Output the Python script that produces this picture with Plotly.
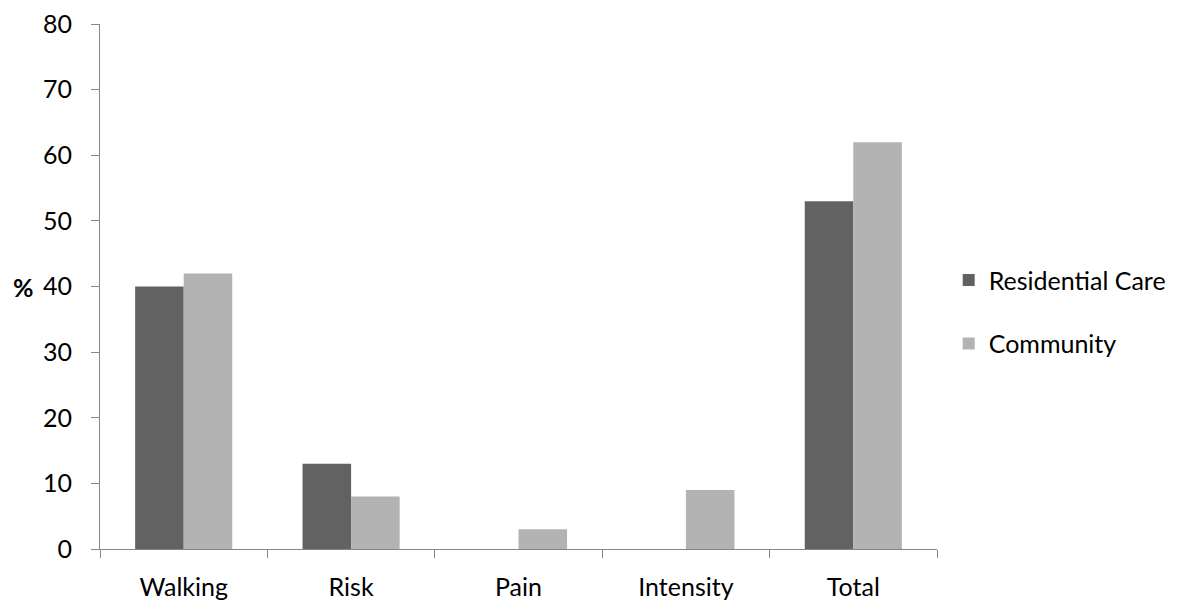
import plotly.graph_objects as go

categories = ["Walking", "Risk", "Pain", "Intensity", "Total"]
residential = [40, 13, 0, 0, 53]
community = [42, 8, 3, 9, 62]
y_ticks = [0, 10, 20, 30, 40, 50, 60, 70, 80]

FONT = "Lato"
FS = 25

fig = go.Figure()
fig.add_trace(go.Bar(x=categories, y=residential, name="Residential Care",
                     marker=dict(color="#626262", line=dict(width=0)),
                     legendgroup="a"))
fig.add_trace(go.Bar(x=categories, y=community, name="Community",
                     marker=dict(color="#b3b3b3", line=dict(width=0)),
                     legendgroup="b"))

fig.update_layout(
    width=1199, height=604,
    margin=dict(l=92, r=270, t=16, b=63),
    paper_bgcolor="white", plot_bgcolor="white",
    barmode="group", bargap=0.42, bargroupgap=0,
    font=dict(family=FONT, size=FS, color="#000000"),
    legend=dict(x=1.014, y=0.452, xanchor="left", yanchor="middle",
                tracegroupgap=28, font=dict(family=FONT, size=FS), itemwidth=30),
    xaxis=dict(showline=True, linecolor="#868686", linewidth=1,
               ticks="outside", tickson="boundaries", ticklen=8,
               tickcolor="#868686", showgrid=False, automargin=False,
               ticklabelstandoff=16, ticklabeloverflow="allow",
               tickfont=dict(family=FONT, size=FS)),
    yaxis=dict(range=[0, 80], tickvals=y_ticks, showline=True,
               linecolor="#868686", linewidth=1, ticks="outside", ticklen=8,
               tickcolor="#868686", showgrid=False, zeroline=False,
               automargin=False, ticklabelstandoff=14, ticklabeloverflow="allow",
               tickfont=dict(family=FONT, size=FS)),
    annotations=[dict(text="<b>%</b>", xref="paper", yref="y", x=0, y=40,
                      xanchor="right", xshift=-64, showarrow=False,
                      font=dict(family=FONT, size=FS, weight="bold"))],
)
fig.write_html("out.html")
